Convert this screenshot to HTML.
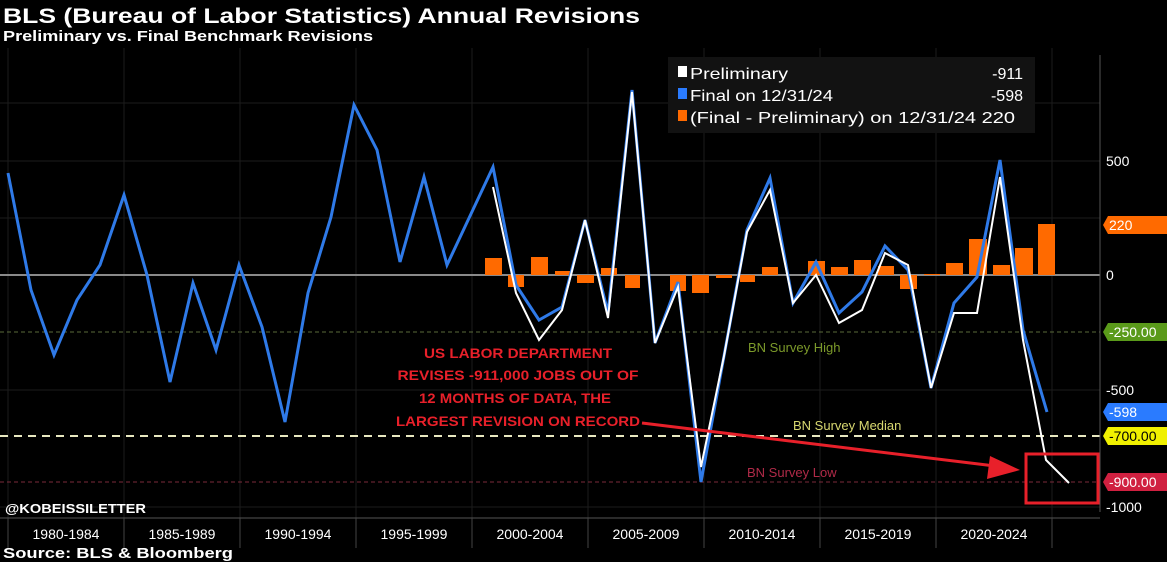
<!DOCTYPE html>
<html><head><meta charset="utf-8"><style>
html,body{margin:0;padding:0;background:#000;}
svg{display:block;font-family:"Liberation Sans",sans-serif;}
</style></head><body>
<svg width="1167" height="562" viewBox="0 0 1167 562" xmlns="http://www.w3.org/2000/svg">
<rect width="1167" height="562" fill="#000"/>
<text x="3" y="23" fill="#fff" font-size="21" font-weight="bold" textLength="637" lengthAdjust="spacingAndGlyphs">BLS (Bureau of Labor Statistics) Annual Revisions</text>
<text x="3" y="41" fill="#fff" font-size="15" font-weight="bold" textLength="370" lengthAdjust="spacingAndGlyphs">Preliminary vs. Final Benchmark Revisions</text>
<!-- grid -->
<g stroke="#1c1c1c" stroke-width="1">
<line x1="8" y1="48" x2="8" y2="518"/><line x1="124" y1="48" x2="124" y2="518"/><line x1="240" y1="48" x2="240" y2="518"/><line x1="356" y1="48" x2="356" y2="518"/><line x1="472" y1="48" x2="472" y2="518"/><line x1="588" y1="48" x2="588" y2="518"/><line x1="704" y1="48" x2="704" y2="518"/><line x1="820" y1="48" x2="820" y2="518"/><line x1="936" y1="48" x2="936" y2="518"/><line x1="1052" y1="48" x2="1052" y2="518"/>
<line x1="0" y1="103" x2="1100" y2="103"/><line x1="0" y1="161" x2="1100" y2="161"/><line x1="0" y1="218" x2="1100" y2="218"/><line x1="0" y1="390" x2="1100" y2="390"/><line x1="0" y1="507" x2="1100" y2="507"/>
</g>
<line x1="0" y1="275" x2="1100" y2="275" stroke="#8a8a8a" stroke-width="2"/>
<line x1="0" y1="332" x2="1100" y2="332" stroke="#5a6a3a" stroke-width="1" stroke-dasharray="4,3"/>
<line x1="0" y1="436" x2="1100" y2="436" stroke="#e8e8c0" stroke-width="2" stroke-dasharray="8,6"/>
<line x1="0" y1="482" x2="1100" y2="482" stroke="#7a2a3a" stroke-width="1" stroke-dasharray="4,3"/>
<!-- bars -->
<g fill="#ff6a00">
<rect x="485" y="258" width="17" height="17"/><rect x="508" y="275" width="16" height="12"/><rect x="531" y="257" width="17" height="18"/><rect x="555" y="271" width="17" height="4"/><rect x="577" y="275" width="17" height="8"/><rect x="601" y="268" width="16" height="7"/><rect x="625" y="275" width="15" height="13"/><rect x="670" y="275" width="16" height="16"/><rect x="692" y="275" width="17" height="18"/><rect x="716" y="275" width="16" height="3"/><rect x="740" y="275" width="15" height="7"/><rect x="762" y="267" width="16" height="8"/><rect x="808" y="261" width="17" height="14"/><rect x="831" y="267" width="17" height="8"/><rect x="854" y="260" width="17" height="15"/><rect x="878" y="266" width="16" height="9"/><rect x="900" y="275" width="17" height="14"/><rect x="924" y="274" width="16" height="1"/><rect x="946" y="263" width="17" height="12"/><rect x="969" y="239" width="18" height="36"/><rect x="993" y="265" width="17" height="10"/><rect x="1015" y="248" width="18" height="27"/><rect x="1038" y="224" width="17" height="51"/>
</g>
<!-- blue final -->
<polyline fill="none" stroke="#2f7ae8" stroke-width="3" stroke-linejoin="miter" points="8,173 31,290 54,355 77,300 100,265 124,195 147,275 170,382 193,283 216,350 239,265 262,327 285,422 308,293 331,217 354,105 377,150 400,262 424,177 447,265 470,216 493,167 516,285 539,320 562,307 585,220 608,313 632,90 655,343 678,282 701,482 724,356 747,230 770,178 793,303 816,262 839,313 862,292 885,246 908,270 931,388 954,303 977,277 1000,160 1023,330 1047,412"/>
<!-- white preliminary -->
<polyline fill="none" stroke="#ffffff" stroke-width="2" stroke-linejoin="miter" points="493,187 516,293 539,340 562,310 585,220 608,318 632,92 655,343 678,287 701,467 724,356 747,232 770,190 793,303 816,275 839,323 862,310 885,253 908,265 931,388 954,313 977,313 1000,177 1023,340 1046,460 1069,483"/>
<!-- axis right -->
<line x1="1100" y1="55" x2="1100" y2="512" stroke="#555" stroke-width="1"/>
<g fill="#fff" font-size="14">
<text x="1106" y="166">500</text><text x="1106" y="280">0</text><text x="1106" y="395">-500</text><text x="1106" y="512">-1000</text>
</g>
<g font-size="14">
<path d="M1108,216 H1167 V234 H1108 L1103,225 Z" fill="#ff6a00"/><text x="1109" y="230" fill="#fff">220</text>
<path d="M1108,323 H1167 V341 H1108 L1103,332 Z" fill="#5a9a1a"/><text x="1109" y="337" fill="#fff">-250.00</text>
<path d="M1108,403 H1167 V421 H1108 L1103,412 Z" fill="#2a7bff"/><text x="1109" y="417" fill="#fff">-598</text>
<path d="M1108,427 H1167 V445 H1108 L1103,436 Z" fill="#f0f000"/><text x="1109" y="441" fill="#000">-700.00</text>
<path d="M1108,473 H1167 V491 H1108 L1103,482 Z" fill="#d02040"/><text x="1109" y="487" fill="#fff">-900.00</text>
</g>
<!-- legend -->
<rect x="668" y="57" width="367" height="76" fill="#121212"/>
<g font-size="16" fill="#fff">
<rect x="678" y="66" width="9" height="11" fill="#fff"/><text x="690" y="79" textLength="98" lengthAdjust="spacingAndGlyphs">Preliminary</text><text x="1023" y="79" text-anchor="end">-911</text>
<rect x="678" y="88" width="9" height="11" fill="#2a7bff"/><text x="690" y="101" textLength="143" lengthAdjust="spacingAndGlyphs">Final on 12/31/24</text><text x="1023" y="101" text-anchor="end">-598</text>
<rect x="678" y="110" width="9" height="11" fill="#ff6a00"/><text x="690" y="123" textLength="325" lengthAdjust="spacingAndGlyphs">(Final - Preliminary) on 12/31/24 220</text>
</g>
<!-- BN labels -->
<text x="748" y="352" fill="#7c9a2a" font-size="13">BN Survey High</text>
<text x="793" y="430" fill="#d8d870" font-size="13">BN Survey Median</text>
<text x="747" y="477" fill="#b02a48" font-size="13">BN Survey Low</text>
<!-- annotation -->
<g fill="#e8202a" font-size="14" font-weight="bold" text-anchor="middle" lengthAdjust="spacingAndGlyphs">
<text x="518" y="358" textLength="188" lengthAdjust="spacingAndGlyphs">US LABOR DEPARTMENT</text>
<text x="518" y="380" textLength="241" lengthAdjust="spacingAndGlyphs">REVISES -911,000 JOBS OUT OF</text>
<text x="515" y="403" textLength="192" lengthAdjust="spacingAndGlyphs">12 MONTHS OF DATA, THE</text>
<text x="518" y="426" textLength="244" lengthAdjust="spacingAndGlyphs">LARGEST REVISION ON RECORD</text>
</g>
<line x1="642" y1="423" x2="995" y2="466" stroke="#e8202a" stroke-width="3"/>
<polygon points="1020,470 990,456 987,479" fill="#e8202a"/>
<rect x="1026" y="454" width="72" height="49" fill="none" stroke="#e8202a" stroke-width="3"/>
<!-- x axis -->
<line x1="0" y1="518" x2="1100" y2="518" stroke="#555" stroke-width="1"/>
<g stroke="#444"><line x1="8" y1="518" x2="8" y2="548"/><line x1="124" y1="518" x2="124" y2="548"/><line x1="240" y1="518" x2="240" y2="548"/><line x1="356" y1="518" x2="356" y2="548"/><line x1="472" y1="518" x2="472" y2="548"/><line x1="588" y1="518" x2="588" y2="548"/><line x1="704" y1="518" x2="704" y2="548"/><line x1="820" y1="518" x2="820" y2="548"/><line x1="936" y1="518" x2="936" y2="548"/><line x1="1052" y1="518" x2="1052" y2="548"/></g>
<g fill="#fff" font-size="14" text-anchor="middle">
<text x="66" y="539">1980-1984</text><text x="182" y="539">1985-1989</text><text x="298" y="539">1990-1994</text><text x="414" y="539">1995-1999</text><text x="530" y="539">2000-2004</text><text x="646" y="539">2005-2009</text><text x="762" y="539">2010-2014</text><text x="878" y="539">2015-2019</text><text x="994" y="539">2020-2024</text>
</g>
<text x="5" y="513" fill="#fff" font-size="13" font-weight="bold" textLength="141" lengthAdjust="spacingAndGlyphs">@KOBEISSILETTER</text>
<text x="3" y="558" fill="#fff" font-size="15" font-weight="bold" textLength="230" lengthAdjust="spacingAndGlyphs">Source: BLS &amp; Bloomberg</text>
</svg>
</body></html>
